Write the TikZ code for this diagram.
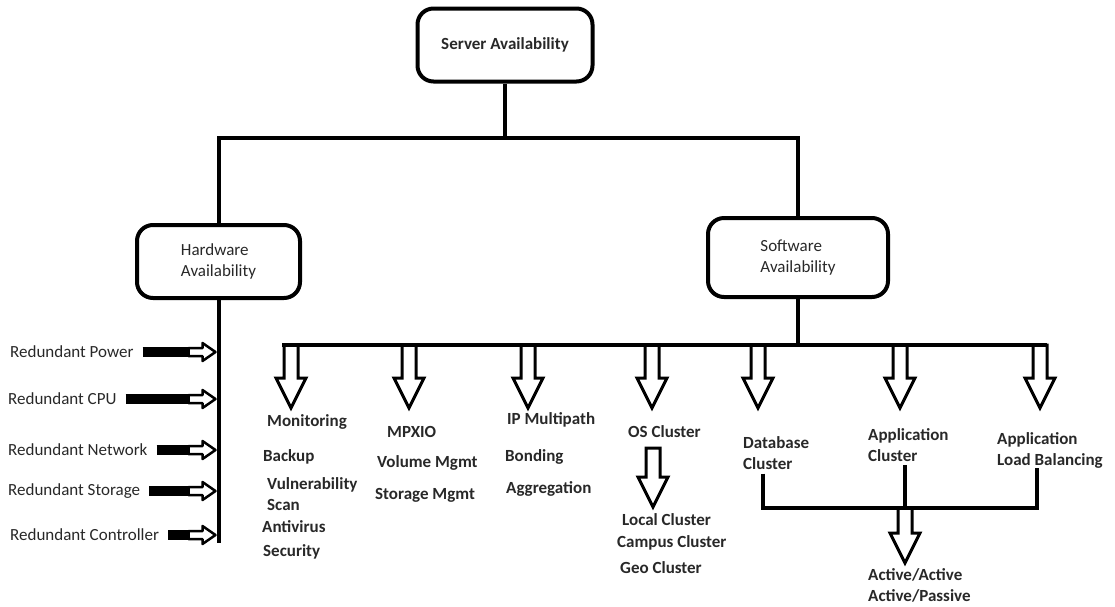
\documentclass[tikz,border=0pt]{standalone}
\usepackage{fontspec}
\setmainfont{Carlito}
\usepackage{tikz}
\usetikzlibrary{calc}
\definecolor{inkgray}{RGB}{40,40,40}

% hollow block arrow pointing down, from a coordinate, given length
\newcommand{\hollowdown}[2]{%
  \begin{scope}[shift={(#1)}]
    \draw[blockline,fill=white] (-7,0) -- (-7,#2-30) -- (-15,#2-30) -- (0,#2)
      -- (15,#2-30) -- (7,#2-30) -- (7,0) -- cycle;
  \end{scope}}
% thick bar with open head, from a label to the hardware line
\newcommand{\sidearrow}[1]{%
  \draw[line width=10pt,shorten <=9pt] (#1.east) -- ($(#1.east -| hwend)+(-22,0)$);
  \begin{scope}[shift={(#1.east -| hwend)}]
    \draw[line width=2.5pt,fill=white,line join=round] (-3,0) -- (-16,-9) -- (-16,-4)
      -- (-30,-4) -- (-30,4) -- (-16,4) -- (-16,9) -- cycle;
  \end{scope}}

\begin{document}
\begin{tikzpicture}[x=1pt,y=-1pt,
  every node/.style={text=inkgray,font=\fontsize{17}{21}\selectfont,inner sep=0pt},
  bold/.style={font=\fontsize{17}{21}\selectfont\bfseries},
  availbox/.style={draw=black,line width=4pt,rounded corners=16pt,align=left},
  link/.style={line width=4pt},
  blockline/.style={line width=3pt}]
\useasboundingbox (0,0) rectangle (1115,606);

% top level
\node[availbox,bold,minimum width=175pt,minimum height=73pt] (server) at (505,45) {Server Availability};
\node[availbox,minimum width=163pt,minimum height=73pt] (hw) at (218.5,261.5) {Hardware\\Availability};
\node[availbox,minimum width=180pt,minimum height=79pt] (sw) at (798,257.5) {Software\\Availability};
\coordinate (split) at (505,138);
\draw[link] (server.south) -- (split);
\draw[link] (hw.north) |- (split) -| (sw.north);

% hardware side
\coordinate (hwend) at (218.5,543);
\draw[link] (hw.south) -- (hwend);
\node[anchor=west] (rpower) at (10,352) {Redundant Power};
\node[anchor=west] (rcpu) at (8,399) {Redundant CPU};
\node[anchor=west] (rnet) at (8,450) {Redundant Network};
\node[anchor=west] (rstor) at (8,491) {Redundant Storage};
\node[anchor=west] (rctrl) at (10,535) {Redundant Controller};
\foreach \n in {rpower,rcpu,rnet,rstor,rctrl}
  \sidearrow{\n};

% software side
\coordinate (busL) at (282,345);
\coordinate (busR) at (1047,345);
\foreach \n/\x in {mon/291,mpx/409,ipm/528,osc/652,dbc/758,apc/900,alb/1040}{
  \coordinate (top\n) at (\x,345);
  \hollowdown{top\n}{63}
}
\draw[link] (busL) -- (busR);
\draw[link] (sw.south) -- (sw.south |- busL);

\node[bold,anchor=west] (mon) at (267,422) {Monitoring};
\node[bold,anchor=west] (backup) at (263,457) {Backup};
\node[bold,anchor=west,align=left] (vuln) at (267,494.5) {Vulnerability\\Scan};
\node[bold,anchor=west] (antiv) at (262,527) {Antivirus};
\node[bold,anchor=west] (secu) at (263,552) {Security};

\node[bold,anchor=west] (mpxio) at (387,432) {MPXIO};
\node[bold,anchor=west] (volm) at (377,463) {Volume Mgmt};
\node[bold,anchor=west] (stom) at (375,495) {Storage Mgmt};

\node[bold,anchor=west] (ipmp) at (507,420) {IP Multipath};
\node[bold,anchor=west] (bond) at (505,457) {Bonding};
\node[bold,anchor=west] (aggr) at (506,489) {Aggregation};

\node[bold,anchor=west] (osc) at (628,432) {OS Cluster};
\coordinate (osarrow) at (653,448);
\hollowdown{osarrow}{59}
\node[bold,anchor=west] (local) at (622,520) {Local Cluster};
\node[bold,anchor=west] (campus) at (617,543) {Campus Cluster};
\node[bold,anchor=west] (geo) at (620,568) {Geo Cluster};

\node[bold,anchor=west,align=left] (db) at (743,453) {Database\\Cluster};
\node[bold,anchor=west,align=left] (appc) at (868,445.5) {Application\\Cluster};
\node[bold,anchor=west,align=left] (alb) at (997,450) {Application\\Load Balancing};

% cluster modes
\coordinate (join) at (905,508);
\hollowdown{join}{55}
\draw[link,shorten <=4pt] ([xshift=20pt]db.south west) |- (join) -| ([xshift=40pt]alb.south west);
\draw[link,shorten <=3pt] (appc.south -| join) -- (join);
\node[bold,anchor=west,align=left] (active) at (868,585) {Active/Active\\Active/Passive};
\end{tikzpicture}
\end{document}
